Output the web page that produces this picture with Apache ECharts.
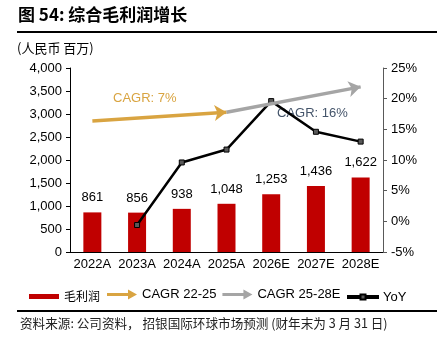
<!DOCTYPE html>
<html>

<head>
    <meta charset="utf-8">
    <script src="https://cdn.jsdelivr.net/npm/echarts@6/dist/echarts.min.js"></script>
</head>

<body style="margin:0">
    <div id="main" style="width: 437px;height:352px;"></div>
    <script type="text/javascript">
        // 数据
        var years = ['2022A', '2023A', '2024A', '2025A', '2026E', '2027E', '2028E'];
        var grossProfit = [861, 856, 938, 1048, 1253, 1436, 1622];
        var yoy = ['-', -0.6, 9.6, 11.7, 19.6, 14.6, 13.0];
        // CAGR 箭头 (左轴数值)
        var cagr1 = [['2022A', 2850], ['2025A', 3040]];
        var cagr2 = [['2025A', 3040], ['2028E', 3590]];

        var myChart = echarts.init(document.getElementById('main'));

        var font = 'Liberation Sans, Arial, sans-serif';
        var cjk = 'Noto Sans CJK SC, sans-serif';
        var arrowIcon = 'path://M0,3.5h21V0l9,5l-9,5V6.5H0z';
        var yoyIcon = 'path://M0,1.6h12.5V0h5v1.6H30v1.8H17.5V5h-5V3.4H0z';

        function thousands(v) {
            return String(v).replace(/\B(?=(\d{3})+(?!\d))/g, ',');
        }

        function arrowLine(pts) {
            return [[{ coord: pts[0] }, { coord: pts[1] }]];
        }

        var legendText = { fontFamily: font, fontSize: 13, color: '#000' };

        option = {
            animation: false,
            title: {
                text: '图 54: 综合毛利润增长',
                left: 18,
                top: 6,
                padding: 0,
                textStyle: { fontFamily: cjk, fontSize: 17, fontWeight: 'bold', color: '#000' }
            },
            graphic: [
                { type: 'rect', shape: { x: 17, y: 31, width: 420, height: 2 }, style: { fill: '#000' } },
                { type: 'text', left: 17, top: 42, style: { text: '(人民币 百万)', font: '13px ' + cjk, fill: '#000' } },
                { type: 'text', left: 113, top: 92, style: { text: 'CAGR: 7%', font: '13px ' + font, fill: '#D9A441' } },
                { type: 'text', left: 277, top: 107, style: { text: 'CAGR: 16%', font: '13px ' + font, fill: '#44546A' } },
                { type: 'rect', shape: { x: 17, y: 310, width: 420, height: 2 }, style: { fill: '#000' } },
                { type: 'text', left: 20, top: 317, style: { text: '资料来源: 公司资料， 招银国际环球市场预测 (财年末为 3 月 31 日)', font: '12.6px ' + cjk, fill: '#222' } }
            ],
            legend: [{
                data: [{ name: '毛利润', icon: 'rect' }],
                left: 29,
                top: 290.5,
                padding: 0,
                itemWidth: 30,
                itemHeight: 5,
                textStyle: { fontFamily: cjk, fontSize: 12, color: '#000' }
            }, {
                data: [
                    { name: 'CAGR 22-25', icon: arrowIcon },
                    { name: 'CAGR 25-28E', icon: arrowIcon }
                ],
                left: 107,
                top: 288,
                padding: 0,
                itemWidth: 30,
                itemHeight: 10,
                itemGap: 6,
                textStyle: legendText
            }, {
                data: [{ name: 'YoY', icon: yoyIcon }],
                left: 347,
                top: 290.5,
                padding: 0,
                itemWidth: 30,
                itemHeight: 5,
                textStyle: legendText
            }],
            grid: { left: 70, right: 54, top: 68, bottom: 100 },
            xAxis: {
                type: 'category',
                data: years,
                axisLine: { lineStyle: { color: '#000' } },
                axisTick: { lineStyle: { color: '#000' } },
                axisLabel: { interval: 0, color: '#000', fontFamily: font, fontSize: 13, margin: 6 }
            },
            yAxis: [{
                type: 'value',
                min: 0,
                max: 4000,
                interval: 500,
                splitLine: { show: false },
                axisLine: { show: true, lineStyle: { color: '#000' } },
                axisTick: { show: true, length: 4, lineStyle: { color: '#000' } },
                axisLabel: { color: '#000', fontFamily: font, fontSize: 13, margin: 8, formatter: thousands }
            }, {
                type: 'value',
                min: -5,
                max: 25,
                interval: 5,
                splitLine: { show: false },
                axisLine: { show: true, lineStyle: { color: '#595959' } },
                axisTick: { show: true, length: 4, lineStyle: { color: '#595959' } },
                axisLabel: { color: '#000', fontFamily: font, fontSize: 13, margin: 8, formatter: '{value}%' }
            }],
            series: [{
                name: '毛利润',
                type: 'bar',
                data: grossProfit,
                barWidth: 18,
                itemStyle: { color: '#C00000' },
                label: {
                    show: true,
                    position: 'top',
                    distance: 8,
                    color: '#000',
                    fontFamily: font,
                    fontSize: 13,
                    formatter: function (p) { return thousands(p.value); }
                }
            }, {
                name: 'CAGR 22-25',
                type: 'line',
                data: [],
                itemStyle: { color: '#D9A441' },
                lineStyle: { color: '#D9A441' },
                markLine: {
                    silent: true,
                    symbol: ['none', 'arrow'],
                    symbolSize: 12,
                    label: { show: false },
                    lineStyle: { color: '#D9A441', width: 3.5, type: 'solid' },
                    data: arrowLine(cagr1)
                }
            }, {
                name: 'CAGR 25-28E',
                type: 'line',
                data: [],
                itemStyle: { color: '#A5A5A5' },
                lineStyle: { color: '#A5A5A5' },
                markLine: {
                    silent: true,
                    symbol: ['none', 'arrow'],
                    symbolSize: 12,
                    label: { show: false },
                    lineStyle: { color: '#A5A5A5', width: 3.5, type: 'solid' },
                    data: arrowLine(cagr2)
                }
            }, {
                name: 'YoY',
                type: 'line',
                yAxisIndex: 1,
                data: yoy,
                symbol: 'rect',
                symbolSize: 5,
                itemStyle: { color: '#595959', borderColor: '#000', borderWidth: 1 },
                lineStyle: { color: '#000', width: 2.5 }
            }]
        };

        myChart.setOption(option);
    </script>
</body>

</html>
